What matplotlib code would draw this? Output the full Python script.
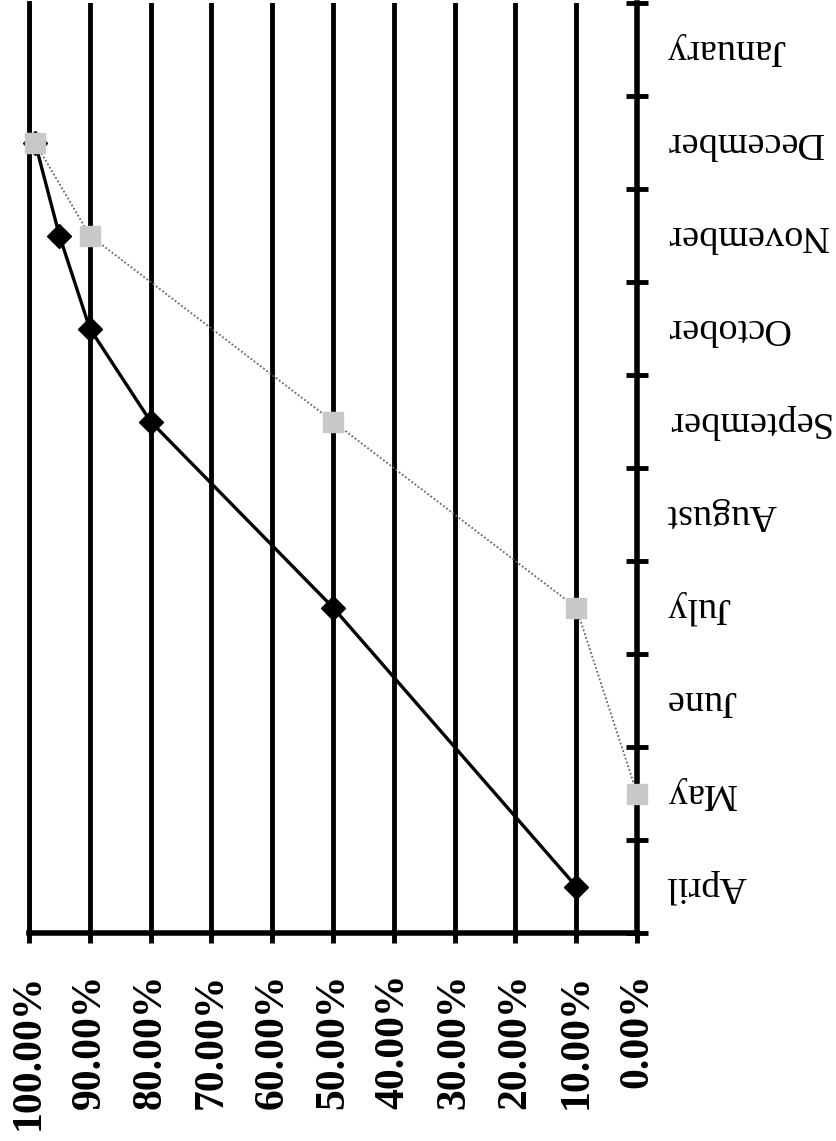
import matplotlib
matplotlib.use("Agg")
import matplotlib.pyplot as plt
from matplotlib.ticker import FixedLocator

months = ["April", "May", "June", "July", "August", "September",
          "October", "November", "December", "January"]
pct_ticks = [0, 10, 20, 30, 40, 50, 60, 70, 80, 90, 100]
pct_labels = [f"{v:.2f}%" for v in pct_ticks]

# series 1 (solid black, diamonds) - months with values
s1_months = ["April", "July", "September", "October", "November", "December"]
s1_values = [10, 50, 80, 90, 95, 99]
# series 2 (dotted gray, squares)
s2_months = ["May", "July", "September", "November", "December"]
s2_values = [0, 10, 50, 90, 99]

W, H = 837, 1141
fig = plt.figure(figsize=(W / 100, H / 100), dpi=100)
ax = fig.add_axes([29 / W, 1 - 933 / H, (637 - 29) / W, (933 - 3) / H])

ypos = {m: i for i, m in enumerate(months)}
ax.plot(s1_values, [ypos[m] for m in s1_months], color="black", lw=2.4,
        marker="D", markersize=12, markerfacecolor="black",
        markeredgecolor="black", zorder=4, clip_on=False)
ax.plot(s2_values, [ypos[m] for m in s2_months], color="#666666", lw=1.3,
        linestyle=(0, (1, 1.2)), marker="s", markersize=14,
        markerfacecolor="#c8c8c8", markeredgecolor="#c8c8c8", zorder=5,
        clip_on=False)

ax.set_xlim(100, 0)
ax.set_ylim(-0.5, len(months) - 0.5)

ax.set_xticks(pct_ticks)
ax.set_xticklabels(pct_labels, rotation=90, fontsize=30, fontweight="bold",
                   family="Liberation Serif", va="top", ha="center")
ax.tick_params(axis="x", direction="out", length=7, width=3.5, pad=22,
               colors="black")
ax.grid(axis="x", color="black", lw=3.5, zorder=1)
ax.set_axisbelow(True)

ax.yaxis.tick_right()
ax.set_yticks(range(len(months)))
ax.set_yticklabels(months, rotation=180, fontsize=27.5,
                   family="Liberation Serif", ha="left", va="center")
ax.yaxis.set_minor_locator(FixedLocator([i - 0.5 for i in range(len(months) + 1)]))
ax.tick_params(axis="y", which="major", length=0, pad=21)
ax.tick_params(axis="y", which="minor", direction="inout", length=16,
               width=3.5, right=True, left=False)

ax.spines["top"].set_visible(False)
ax.spines["left"].set_linewidth(3.5)
ax.spines["bottom"].set_linewidth(4)
ax.spines["right"].set_linewidth(4)

fig.savefig("out.png", dpi=100)
